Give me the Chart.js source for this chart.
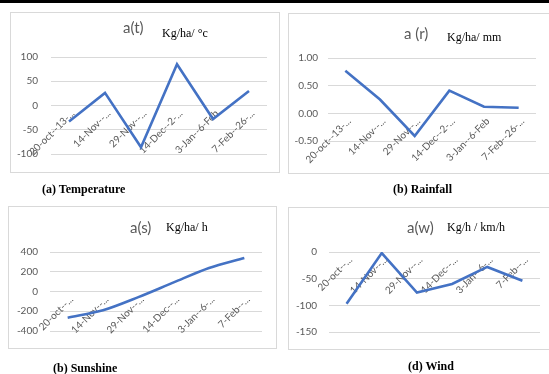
<!DOCTYPE html>
<html>
<head>
<meta charset="utf-8">
<script src="https://cdn.jsdelivr.net/npm/chart.js@4.4.0/dist/chart.umd.min.js"></script>
<style>
html,body{margin:0;padding:0;overflow:hidden;background:#fff}
body{position:relative;width:549px;height:374px}
.topbar{position:absolute;left:0;top:0;width:549px;height:3px;background:#000}
canvas{position:absolute}
.frame{position:absolute;border:1px solid #d9d9d9;box-sizing:border-box;pointer-events:none}
.t{position:absolute;font-family:Lato;font-size:15px;line-height:15px;color:#595959;white-space:nowrap}
.u{position:absolute;font-family:"Liberation Serif";font-size:12px;line-height:12px;color:#000;white-space:nowrap}
.cap{position:absolute;font-family:"Liberation Serif";font-weight:bold;font-size:12px;line-height:12px;color:#000;white-space:nowrap}
</style>
</head>
<body>
<div class="topbar"></div>

<canvas id="temp" width="270" height="161" style="left:10px;top:12px"></canvas>
<div class="frame" style="left:10px;top:12px;width:270px;height:161px"></div>
<span class="t" style="left:123px;top:20px">a(t)</span>
<span class="u" style="left:162px;top:27px">Kg/ha/ °c</span>
<span class="cap" style="left:42px;top:183px">(a) Temperature</span>

<canvas id="rain" width="270" height="161" style="left:288px;top:13px"></canvas>
<div class="frame" style="left:288px;top:13px;width:270px;height:161px"></div>
<span class="t" style="left:404px;top:26px">a (r)</span>
<span class="u" style="left:447px;top:31px">Kg/ha/ mm</span>
<span class="cap" style="left:393px;top:183px">(b) Rainfall</span>

<canvas id="sun" width="269" height="143" style="left:8px;top:206px"></canvas>
<div class="frame" style="left:8px;top:206px;width:269px;height:143px"></div>
<span class="t" style="left:130px;top:220px">a(s)</span>
<span class="u" style="left:166px;top:221px">Kg/ha/ h</span>
<span class="cap" style="left:53px;top:362px">(b) Sunshine</span>

<canvas id="wind" width="270" height="143" style="left:288px;top:207px"></canvas>
<div class="frame" style="left:288px;top:207px;width:270px;height:143px"></div>
<span class="t" style="left:407px;top:220px">a(w)</span>
<span class="u" style="left:447px;top:221px">Kg/h / km/h</span>
<span class="cap" style="left:408px;top:360px">(d) Wind</span>

<script>
// period labels as they appear (truncated) on each panel
var tempLabels = ['20-oct--13-...', '14-Nov--...', '29-Nov--...', '14-Dec--2-...', '3-Jan--6-Feb', '7-Feb--26-...'];
var rainLabels = ['20-oct--13-...', '14-Nov--...', '29-Nov--...', '14-Dec--2-...', '3-Jan--6-Feb', '7-Feb--26-...'];
var sunLabels = ['20-oct--...', '14-Nov--...', '29-Nov--...', '14-Dec--...', '3-Jan--6-...', '7-Feb--...'];
var windLabels = ['20-oct--...', '14-Nov--...', '29-Nov--...', '14-Dec--...', '3-Jan--6-...', '7-Feb--...'];

var tempValues = [-33, 26, -86, 85, -28, 30];
var rainValues = [0.77, 0.25, -0.41, 0.41, 0.12, 0.10];
var sunValues = [-265, -190, -57, 92, 238, 340];
var windValues = [-97, -2, -76, -60, -28, -54];

// y axis: min, max, step
var tempAxis = [-100, 100, 50];
var rainAxis = [-0.5, 1, 0.5];
var sunAxis = [-400, 400, 200];
var windAxis = [-150, 0, 50];

var tickFont = {family: 'Lato', size: 10};

function lineChart(id, labels, values, axis, pad, yWidth, yPad, tension, decimals){
  new Chart(document.getElementById(id), {
    type: 'line',
    data: {
      labels: labels,
      datasets: [{
        data: values,
        borderColor: '#4472C4',
        borderWidth: 2.6,
        pointRadius: 0,
        fill: false,
        tension: tension
      }]
    },
    options: {
      responsive: false,
      animation: false,
      layout: {padding: pad},
      plugins: {legend: {display: false}, tooltip: {enabled: false}, title: {display: false}},
      scales: {
        x: {
          position: {y: 0},
          offset: true,
          grid: {display: false, drawTicks: false},
          border: {display: false},
          ticks: {autoSkip: false, minRotation: 45, maxRotation: 45, padding: 2, labelOffset: 4,
                  color: '#595959', font: tickFont}
        },
        y: {
          min: axis[0],
          max: axis[1],
          grid: {color: '#d9d9d9', lineWidth: 1, drawTicks: false},
          border: {display: false},
          ticks: {stepSize: axis[2], padding: yPad, color: '#595959', font: tickFont,
                  callback: function(v){ return decimals ? Number(v).toFixed(decimals) : v; }},
          afterFit: function(s){ s.width = yWidth; }
        }
      }
    }
  });
}

lineChart('temp', tempLabels, tempValues, tempAxis, {left: 0, top: 45, right: 13, bottom: 13}, 41, 13, 0, 0);
lineChart('rain', rainLabels, rainValues, rainAxis, {left: 0, top: 45, right: 22, bottom: 33}, 40, 10, 0, 2);
lineChart('sun', sunLabels, sunValues, sunAxis, {left: 0, top: 46, right: 15, bottom: 13}, 42, 12, 0.3, 0);
lineChart('wind', windLabels, windValues, windAxis, {left: 0, top: 45, right: 18, bottom: 14}, 41, 12, 0, 0);
</script>
</body>
</html>
